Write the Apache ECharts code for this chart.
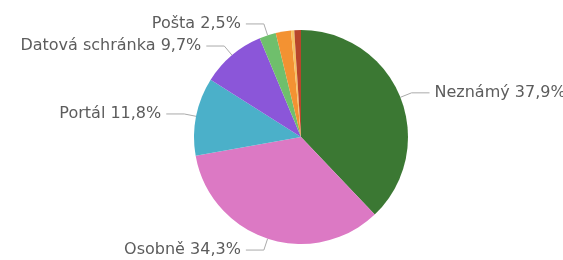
<!DOCTYPE html>
<html>
<head>
<meta charset="utf-8">
<script src="https://cdn.jsdelivr.net/npm/echarts@6/dist/echarts.min.js"></script>
<style>
  html, body { margin: 0; padding: 0; background: #fff; }
  #chart { width: 563px; height: 260px; }
</style>
</head>
<body>
<div id="chart"></div>
<script>
  // podíly kanálů v procentech
  var names = ['Neznámý', 'Osobně', 'Portál', 'Datová schránka', 'Pošta', 'Jiné', 'E-mail', 'Telefon']
  var values = [37.9, 34.3, 11.8, 9.7, 2.5, 2.3, 0.5, 1.0]
  var showLabel = [true, true, true, true, true, false, false, false]
  var colors = ['#3b7833', '#dc79c4', '#4bb0c9', '#8b56d9', '#6fbf6c', '#f39232', '#f6c063', '#b8452b']

  var chart = echarts.init(document.getElementById('chart'))
  var data = names.map(function (n, i) {
    return {
      name: n,
      value: values[i],
      itemStyle: { color: colors[i] },
      label: { show: showLabel[i] },
      labelLine: { show: showLabel[i] }
    }
  })

  var option = {
    animation: false,
    series: [
      {
        type: 'pie',
        center: [301, 137],
        radius: 107,
        startAngle: 90,
        clockwise: true,
        data: data,
        label: {
          color: '#5c5c5c',
          fontFamily: 'DejaVu Sans',
          fontSize: 16,
          overflow: 'none',
          formatter: function (p) {
            return p.name + ' ' + String(p.value).replace('.', ',') + '%'
          }
        },
        labelLine: {
          length: 12,
          length2: 18,
          lineStyle: { color: '#aaa', width: 1 }
        }
      }
    ]
  }
  chart.setOption(option)
</script>
</body>
</html>
